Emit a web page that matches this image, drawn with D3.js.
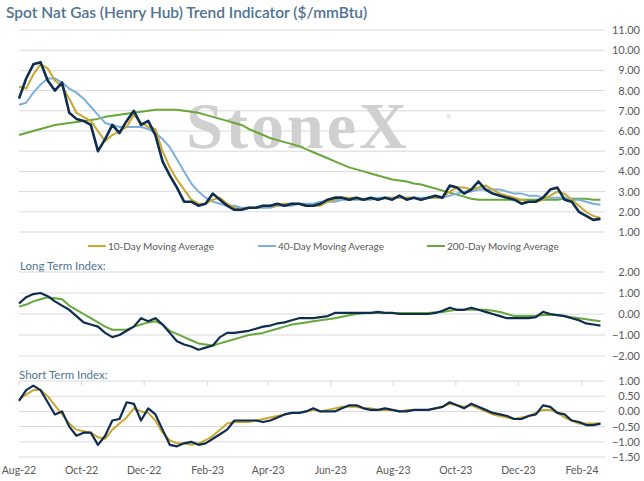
<!DOCTYPE html>
<html><head><meta charset="utf-8">
<script src="https://cdn.jsdelivr.net/npm/d3@7"></script>
<style>body{margin:0;background:#fff}text{font-family:Lato,"Open Sans",sans-serif}</style>
</head><body><svg id="c" width="644" height="481"></svg>
<script>
// weekly samples starting 1 Aug 2022
const price = [7.6,8.6,9.3,9.4,8.5,8.0,8.4,6.9,6.6,6.5,6.3,5.0,5.6,6.3,5.9,6.5,7.0,6.3,6.5,5.8,4.5,3.8,3.2,2.5,2.5,2.3,2.4,2.9,2.6,2.3,2.1,2.1,2.2,2.2,2.3,2.3,2.4,2.3,2.4,2.4,2.3,2.3,2.4,2.6,2.7,2.7,2.6,2.7,2.6,2.7,2.6,2.7,2.6,2.8,2.6,2.7,2.6,2.7,2.8,2.7,3.3,3.2,2.9,3.1,3.5,3.1,2.9,2.8,2.7,2.6,2.4,2.5,2.5,2.7,3.1,3.2,2.6,2.5,2.0,1.8,1.6,1.65];
const ma10 = [8.2,8.1,8.8,9.3,9.1,8.5,8.2,7.6,6.9,6.7,6.5,6.0,5.5,5.8,6.0,6.2,6.8,6.4,6.2,6.1,5.0,4.2,3.6,3.1,2.6,2.4,2.4,2.6,2.7,2.4,2.2,2.1,2.2,2.2,2.3,2.3,2.3,2.4,2.4,2.4,2.3,2.3,2.3,2.5,2.6,2.7,2.7,2.7,2.6,2.7,2.6,2.7,2.7,2.7,2.7,2.7,2.6,2.7,2.7,2.7,3.0,3.2,3.2,3.1,3.2,3.3,3.1,2.9,2.8,2.7,2.6,2.5,2.5,2.6,2.8,3.0,2.9,2.6,2.3,2.0,1.8,1.7];
const ma40 = [7.3,7.4,7.9,8.3,8.6,8.6,8.4,8.1,7.9,7.6,7.2,6.8,6.4,6.3,6.2,6.2,6.2,6.2,6.1,5.9,5.6,5.2,4.6,4.0,3.4,3.0,2.7,2.5,2.4,2.3,2.3,2.2,2.2,2.2,2.2,2.2,2.3,2.3,2.3,2.4,2.4,2.4,2.5,2.5,2.5,2.6,2.6,2.6,2.6,2.6,2.7,2.7,2.7,2.7,2.7,2.7,2.7,2.7,2.7,2.7,2.8,2.9,3.0,3.0,3.1,3.1,3.1,3.1,3.0,2.9,2.9,2.8,2.8,2.7,2.7,2.7,2.7,2.6,2.6,2.5,2.4,2.35];
const ma200 = [5.8,5.9,6.0,6.1,6.2,6.3,6.35,6.4,6.45,6.5,6.55,6.6,6.7,6.75,6.8,6.85,6.9,6.95,7.0,7.05,7.05,7.05,7.05,7.0,6.95,6.9,6.8,6.7,6.6,6.5,6.4,6.3,6.1,5.95,5.8,5.65,5.55,5.45,5.35,5.25,5.1,4.95,4.8,4.65,4.5,4.35,4.2,4.1,4.0,3.9,3.8,3.7,3.6,3.55,3.5,3.4,3.35,3.25,3.15,3.05,2.95,2.85,2.75,2.65,2.6,2.6,2.6,2.6,2.6,2.6,2.6,2.6,2.6,2.6,2.6,2.6,2.65,2.65,2.65,2.65,2.6,2.6];
const longIdx = [0.5,0.8,0.95,1.0,0.85,0.6,0.4,0.2,-0.1,-0.4,-0.5,-0.6,-0.9,-1.1,-1.0,-0.8,-0.6,-0.2,-0.35,-0.2,-0.5,-0.9,-1.3,-1.45,-1.55,-1.7,-1.6,-1.5,-1.1,-0.9,-0.9,-0.85,-0.8,-0.7,-0.6,-0.55,-0.45,-0.4,-0.3,-0.2,-0.2,-0.2,-0.15,-0.1,0.05,0.05,0.05,0.05,0.05,0.05,0.1,0.05,0.05,0.0,0.0,0.0,0.0,0.0,0.05,0.15,0.3,0.2,0.2,0.3,0.2,0.1,0.0,-0.1,-0.2,-0.2,-0.2,-0.2,-0.15,0.1,0.0,-0.05,-0.1,-0.2,-0.3,-0.45,-0.5,-0.55];
const longAvg = [0.35,0.45,0.6,0.7,0.8,0.75,0.7,0.4,0.2,0.0,-0.2,-0.4,-0.6,-0.75,-0.75,-0.75,-0.6,-0.5,-0.4,-0.35,-0.5,-0.8,-0.95,-1.1,-1.25,-1.4,-1.45,-1.5,-1.4,-1.3,-1.2,-1.1,-1.0,-0.95,-0.9,-0.8,-0.7,-0.6,-0.5,-0.45,-0.4,-0.35,-0.3,-0.25,-0.2,-0.13,-0.06,0.0,0.03,0.05,0.05,0.05,0.05,0.05,0.05,0.05,0.05,0.05,0.08,0.1,0.15,0.2,0.2,0.2,0.2,0.2,0.15,0.1,0.0,-0.1,-0.1,-0.1,-0.08,-0.05,-0.05,-0.05,-0.1,-0.15,-0.2,-0.25,-0.3,-0.35];
const shortIdx = [0.35,0.7,0.85,0.7,0.3,-0.1,0.0,-0.5,-0.8,-0.7,-0.7,-1.1,-0.8,-0.3,-0.25,0.3,0.25,-0.3,0.1,-0.1,-0.6,-1.1,-1.15,-1.05,-1.0,-1.1,-1.05,-0.9,-0.75,-0.6,-0.3,-0.3,-0.3,-0.3,-0.35,-0.3,-0.2,-0.1,-0.05,-0.05,0.0,0.1,0.0,0.0,0.0,0.1,0.2,0.2,0.1,0.05,0.05,0.1,0.05,0.0,0.0,0.05,0.05,0.05,0.1,0.15,0.3,0.2,0.1,0.25,0.15,0.05,-0.05,-0.1,-0.15,-0.25,-0.25,-0.15,-0.1,0.2,0.15,-0.05,-0.1,-0.3,-0.35,-0.45,-0.45,-0.4];
const shortAvg = [0.4,0.55,0.7,0.7,0.5,0.2,-0.1,-0.4,-0.6,-0.65,-0.7,-0.85,-0.9,-0.6,-0.4,-0.2,0.1,0.0,-0.05,-0.3,-0.7,-0.95,-1.05,-1.05,-1.1,-1.05,-0.95,-0.8,-0.6,-0.4,-0.35,-0.35,-0.35,-0.3,-0.25,-0.2,-0.15,-0.1,-0.05,-0.05,0.0,0.05,0.0,0.05,0.1,0.15,0.15,0.15,0.1,0.1,0.05,0.05,0.05,0.0,0.05,0.05,0.05,0.05,0.1,0.15,0.25,0.2,0.15,0.2,0.1,0.0,-0.1,-0.15,-0.2,-0.25,-0.2,-0.15,-0.05,0.05,0.05,-0.05,-0.2,-0.3,-0.4,-0.4,-0.4,-0.4];
const monthTicks = ["2022-08-01","2022-10-01","2022-12-01","2023-02-01","2023-04-01","2023-06-01","2023-08-01","2023-10-01","2023-12-01","2024-02-01"];

const start = new Date(2022, 7, 1);
const dateAt = i => d3.timeDay.offset(start, 7 * i);
const svg = d3.select("#c");
const x = d3.scaleTime().domain([start, new Date(2024, 1, 1)]).range([19, 582]);
const X0 = 19, X1 = 605;
const grid = "#d9d9d9", axisTxt = "#595959", titleCol = "#4f7390";
const cNavy = "#0f2d4f", cGold = "#c8a830", cBlue = "#7db0d8", cGreen = "#67a83a";

svg.append("text").attr("x", 6).attr("y", 18).attr("font-size", 15.5).attr("font-weight", 600)
  .attr("fill", titleCol).text("Spot Nat Gas (Henry Hub) Trend Indicator ($/mmBtu)");

function panel(y, ticks, fmt) {
  svg.append("g").selectAll("line").data(ticks).join("line")
    .attr("x1", X0).attr("x2", X1).attr("y1", d => y(d)).attr("y2", d => y(d)).attr("stroke", grid);
  svg.append("g").selectAll("text").data(ticks).join("text")
    .attr("x", 640).attr("y", d => y(d) + 4).attr("text-anchor", "end").attr("font-size", 11)
    .attr("fill", axisTxt).text(fmt);
}
function line(y, data, col, w) {
  svg.append("path").datum(data).attr("fill", "none").attr("stroke", col).attr("stroke-width", w)
    .attr("stroke-linejoin", "round")
    .attr("d", d3.line().x((d, i) => x(dateAt(i))).y(d => y(d)));
}
const f2 = d3.format(".2f");

// top panel
const y1 = d3.scaleLinear().domain([1, 11]).range([232, 30]);
panel(y1, d3.range(1, 12), f2);
svg.append("text").attr("x", 298).attr("y", 148).attr("text-anchor", "middle")
  .style("font-family", "'Liberation Serif','DejaVu Serif',serif").attr("font-size", 66).attr("font-weight", "bold")
  .attr("fill", "#d0d0d0").attr("letter-spacing", 3).text("StoneX");
svg.append("text").attr("x", 446).attr("y", 119).attr("font-size", 6).attr("fill", "#ccc").text("®");
line(y1, ma200, cGreen, 2);
line(y1, ma40, cBlue, 2);
line(y1, ma10, cGold, 2);
line(y1, price, cNavy, 2.6);

const leg = [["10-Day Moving Average", cGold, 88], ["40-Day Moving Average", cBlue, 258], ["200-Day Moving Average", cGreen, 427]];
leg.forEach(([t, c, lx]) => {
  svg.append("line").attr("x1", lx).attr("x2", lx + 18).attr("y1", 246).attr("y2", 246).attr("stroke", c).attr("stroke-width", 2);
  svg.append("text").attr("x", lx + 20).attr("y", 250).attr("font-size", 10).attr("fill", axisTxt).text(t);
});

// long term panel
const y2 = d3.scaleLinear().domain([-2, 2]).range([356, 272]);
svg.append("text").attr("x", 20).attr("y", 270).attr("font-size", 11.5).attr("fill", titleCol).text("Long Term Index:");
panel(y2, [-2, -1, 0, 1, 2], f2);
line(y2, longAvg, cGreen, 2);
line(y2, longIdx, cNavy, 2.2);

// short term panel
const y3 = d3.scaleLinear().domain([-1.5, 1]).range([457, 381]);
svg.append("text").attr("x", 19).attr("y", 379).attr("font-size", 11.5).attr("fill", titleCol).text("Short Term Index:");
panel(y3, [-1.5, -1, -0.5, 0, 0.5, 1], f2);
const mt = monthTicks.map(d3.timeParse("%Y-%m-%d"));
svg.append("g").selectAll("line").data(mt).join("line")
  .attr("x1", d => x(d)).attr("x2", d => x(d)).attr("y1", 381).attr("y2", 386).attr("stroke", grid);
line(y3, shortAvg, cGold, 2);
line(y3, shortIdx, cNavy, 2.2);

svg.append("g").selectAll("text").data(mt).join("text")
  .attr("x", d => x(d)).attr("y", 474).attr("text-anchor", "middle").attr("font-size", 10.5)
  .attr("fill", axisTxt).text(d3.timeFormat("%b-%y"));
</script></body></html>
